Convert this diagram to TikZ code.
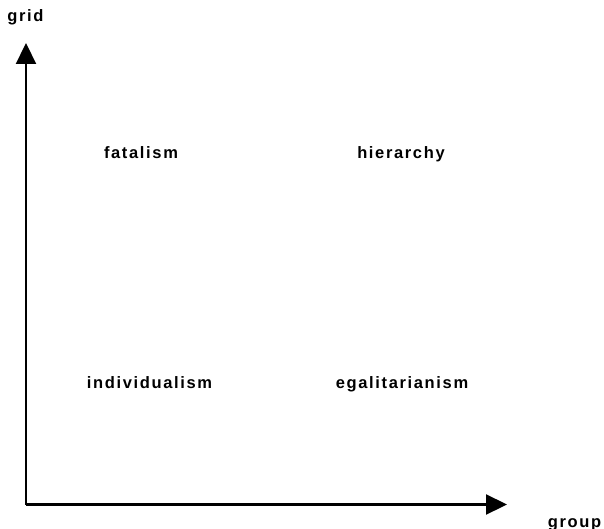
\documentclass[tikz,border=0pt]{standalone}
\usepackage{fontspec}
\setmainfont{Liberation Sans}[LetterSpace=10]
\usetikzlibrary{arrows.meta}
\begin{document}
\begin{tikzpicture}[x=1pt,y=-1pt,
  axis/.style={line width=2.2pt,-{Triangle[length=21pt,width=20pt]}},
  lbl/.style={font=\fontsize{16.5}{18}\selectfont\bfseries,inner sep=0pt,anchor=base}]
\useasboundingbox (0,0) rectangle (604,529);
\coordinate (o) at (26,504.5);
\coordinate (ytip) at (26,43);
\coordinate (xtip) at (507,504.5);
\draw[axis] (o) -- (ytip);
\draw[axis] (o) -- (xtip);
\node[lbl] (grid) at (25.5,22) {grid};
\node[lbl] (group) at (574.5,527) {group};
\node[lbl] (fat) at (141,159) {fatalism};
\node[lbl] (hier) at (401,159) {hierarchy};
\node[lbl] (ind) at (149.5,388) {individualism};
\node[lbl] (ega) at (402,388) {egalitarianism};
\end{tikzpicture}
\end{document}
